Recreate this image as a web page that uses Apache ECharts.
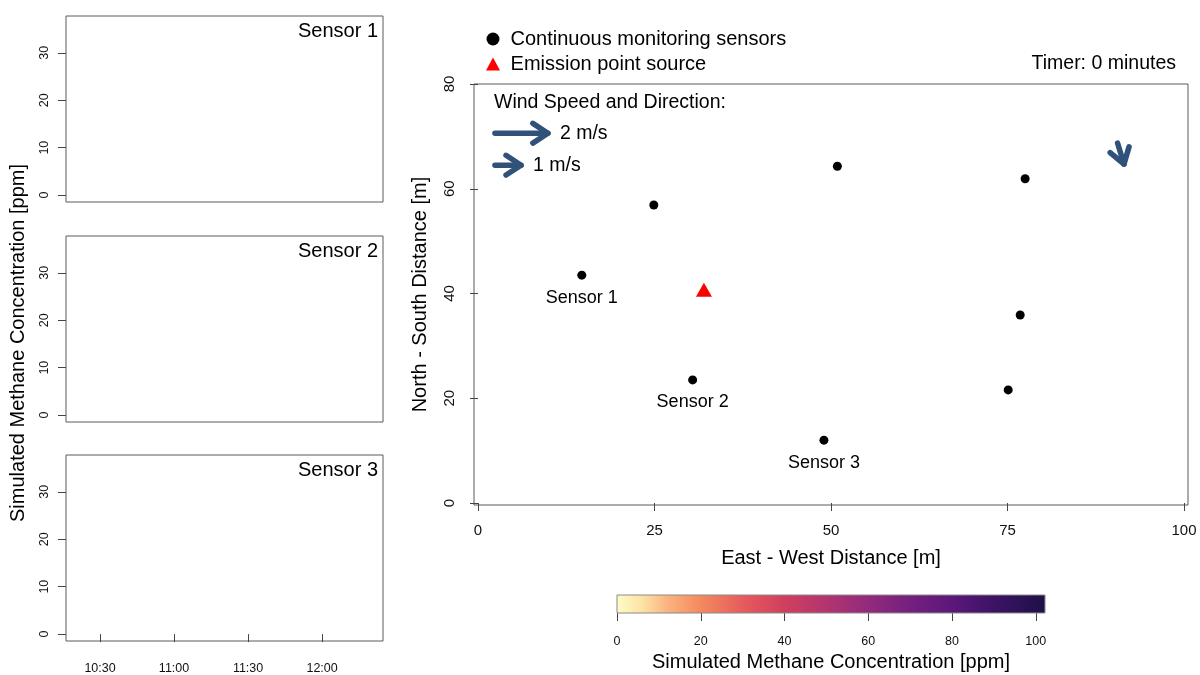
<!DOCTYPE html>
<html><head><meta charset="utf-8">
<script src="https://cdn.jsdelivr.net/npm/echarts@6/dist/echarts.min.js"></script>
<style>html,body{margin:0;padding:0;background:#fff}#c{width:1200px;height:675px}</style>
</head><body><div id="c"></div>
<script>
// ---------- data ----------
const sensorNames = ['Sensor 1', 'Sensor 2', 'Sensor 3', '', '', '', '', ''];
const sensorX = [14.7, 30.4, 49.0, 24.9, 50.9, 77.5, 76.8, 75.1];
const sensorY = [43.5, 23.5, 12.0, 56.9, 64.3, 61.9, 35.9, 21.6];
const sourceX = [32.0];
const sourceY = [40.7];
const windArrows = [[90.6, 68.7, 91.5, 64.7]];           // x0, y0, x1, y1 [m]
const windLegendArrows = [[2.4, 70.6, 9.9, 70.6], [2.4, 64.5, 6.1, 64.5]];
const windLegendLabels = ['2 m/s', '1 m/s'];
const xTicks = [0, 25, 50, 75, 100];
const yTicks = [0, 20, 40, 60, 80];
const concTicks = [0, 10, 20, 30];
const timeTicks = [630, 660, 690, 720];                   // minutes after midnight (10:30 .. 12:00)
const colorbarTicks = [0, 20, 40, 60, 80, 100];
const colorbarRange = [0, 102.2];
const sensor1Conc = [];
const sensor2Conc = [];
const sensor3Conc = [];
const panelTitles = ['Sensor 1', 'Sensor 2', 'Sensor 3'];
const timerMinutes = 0;

// ---------- chart ----------
const FF = 'Liberation Sans, Arial, sans-serif';
const ARROW = '#30527a';
const BORDER = '#5a5a5a';
const chart = echarts.init(document.getElementById('c'), null, {renderer: 'canvas'});

function fmtTime(v) {
  const h = Math.floor(v / 60), m = Math.round(v % 60);
  return h + ':' + String(m).padStart(2, '0');
}

function arrowItem(params, api) {
  const p0 = api.coord([api.value(0), api.value(1)]);
  const p1 = api.coord([api.value(2), api.value(3)]);
  const ang = Math.atan2(p1[1] - p0[1], p1[0] - p0[0]);
  const L = 18, a = 0.58;
  const h1 = [p1[0] - L * Math.cos(ang - a), p1[1] - L * Math.sin(ang - a)];
  const h2 = [p1[0] - L * Math.cos(ang + a), p1[1] - L * Math.sin(ang + a)];
  const st = {stroke: ARROW, lineWidth: 5.5, lineCap: 'round', lineJoin: 'round', fill: null};
  const children = [
    {type: 'polyline', shape: {points: [p0, p1]}, style: st},
    {type: 'polyline', shape: {points: [h1, p1, h2]}, style: st}
  ];
  const li = api.value(4);
  if (!isNaN(li) && windLegendLabels[li] != null) {
    children.push({type: 'text', style: {text: windLegendLabels[li], x: p1[0] + 12, y: p1[1],
      verticalAlign: 'middle', align: 'left', font: '19.5px ' + FF, fill: '#000'}});
  }
  return {type: 'group', children};
}

const panelTops = [16, 236, 455];
const panelH = 186;
const grids = [{left: 474, top: 84, width: 714, height: 421, show: true, borderColor: BORDER, borderWidth: 1, backgroundColor: '#fff'}];
panelTops.forEach(t => grids.push({left: 66, top: t, width: 317, height: panelH, show: true, borderColor: BORDER, borderWidth: 1}));
grids.push({left: 617, top: 595, width: 428, height: 18});

const tickStyle = {color: '#444', width: 1};
const xAxes = [{
  gridIndex: 0, type: 'value', min: -0.57, max: 100.57,
  axisLine: {show: false}, splitLine: {show: false},
  axisTick: {show: true, length: 8, lineStyle: tickStyle, customValues: xTicks},
  axisLabel: {fontSize: 15, color: '#111', fontFamily: FF, margin: 18, customValues: xTicks},
  name: 'East - West Distance [m]', nameLocation: 'middle', nameGap: 43,
  nameTextStyle: {fontSize: 20, color: '#000', fontFamily: FF}
}];
const yAxes = [{
  gridIndex: 0, type: 'value', min: -0.38, max: 80,
  axisLine: {show: false}, splitLine: {show: false},
  axisTick: {show: true, length: 8, lineStyle: tickStyle, customValues: yTicks},
  axisLabel: {fontSize: 15, color: '#111', fontFamily: FF, margin: 17, rotate: 90, customValues: yTicks},
  name: 'North - South Distance [m]', nameLocation: 'middle', nameGap: 44,
  nameTextStyle: {fontSize: 20, color: '#000', fontFamily: FF}
}];
for (let i = 0; i < 3; i++) {
  xAxes.push({
    gridIndex: i + 1, type: 'value', min: 616.2, max: 744.7, show: i === 2,
    axisLine: {show: false}, splitLine: {show: false},
    axisTick: {show: true, length: 8, lineStyle: tickStyle, customValues: timeTicks},
    axisLabel: {fontSize: 12.5, color: '#111', fontFamily: FF, margin: 21, customValues: timeTicks, formatter: fmtTime}
  });
  yAxes.push({
    gridIndex: i + 1, type: 'value', min: -1.45, max: 37.75,
    axisLine: {show: false}, splitLine: {show: false},
    axisTick: {show: true, length: 8, lineStyle: tickStyle, customValues: concTicks},
    axisLabel: {fontSize: 12.5, color: '#111', fontFamily: FF, margin: 15, rotate: 90, customValues: concTicks}
  });
}
xAxes.push({
  gridIndex: 4, type: 'value', min: colorbarRange[0], max: colorbarRange[1],
  axisLine: {show: false}, splitLine: {show: false},
  axisTick: {show: true, length: 8, lineStyle: tickStyle, customValues: colorbarTicks},
  axisLabel: {fontSize: 12.5, color: '#111', fontFamily: FF, margin: 22, customValues: colorbarTicks},
  name: 'Simulated Methane Concentration [ppm]', nameLocation: 'middle', nameGap: 39,
  nameTextStyle: {fontSize: 20, color: '#000', fontFamily: FF}
});
yAxes.push({gridIndex: 4, type: 'value', min: 0, max: 1, show: false});

const series = [
  {
    name: 'Continuous monitoring sensors', type: 'scatter', xAxisIndex: 0, yAxisIndex: 0,
    symbol: 'circle', symbolSize: 9, itemStyle: {color: '#000', opacity: 1}, z: 5,
    data: sensorX.map((x, i) => ({value: [x, sensorY[i]], name: sensorNames[i]})),
    label: {show: true, position: 'bottom', distance: 9, fontSize: 18, color: '#000', fontFamily: FF,
      formatter: p => p.name}
  },
  {
    name: 'Emission point source', type: 'scatter', xAxisIndex: 0, yAxisIndex: 0,
    symbol: 'triangle', symbolSize: [16, 14], itemStyle: {color: '#ff0000', opacity: 1}, z: 5,
    data: sourceX.map((x, i) => [x, sourceY[i]])
  },
  {
    type: 'custom', xAxisIndex: 0, yAxisIndex: 0, renderItem: arrowItem, z: 6,
    data: windArrows.map(a => [a[0], a[1], a[2], a[3], NaN])
  },
  {
    type: 'custom', xAxisIndex: 0, yAxisIndex: 0, renderItem: arrowItem, z: 6,
    data: windLegendArrows.map((a, i) => [a[0], a[1], a[2], a[3], i])
  },
  {
    type: 'custom', xAxisIndex: 4, yAxisIndex: 4, z: 3,
    data: [[colorbarRange[0], colorbarRange[1]]],
    renderItem: (params, api) => {
      const a = api.coord([api.value(0), 0]);
      const b = api.coord([api.value(1), 1]);
      return {type: 'rect', shape: {x: a[0], y: b[1], width: b[0] - a[0], height: a[1] - b[1]},
        style: {fill: new echarts.graphic.LinearGradient(0, 0, 1, 0, [
          {offset: 0, color: '#fdfdc8'}, {offset: 0.06, color: '#fde2a5'}, {offset: 0.12, color: '#fbb27f'},
          {offset: 0.196, color: '#f38a5e'}, {offset: 0.3, color: '#e5595d'}, {offset: 0.39, color: '#d0405e'},
          {offset: 0.49, color: '#b23470'}, {offset: 0.587, color: '#922b7d'}, {offset: 0.69, color: '#731f7e'},
          {offset: 0.783, color: '#5c177b'}, {offset: 0.88, color: '#3c1365'}, {offset: 1, color: '#1e1048'}]),
          stroke: '#8a8a8a', lineWidth: 1}};
    }
  }
];
[sensor1Conc, sensor2Conc, sensor3Conc].forEach((d, i) => {
  series.push({type: 'line', xAxisIndex: i + 1, yAxisIndex: i + 1, data: d, showSymbol: false,
    lineStyle: {color: '#000', width: 1.5}});
});

const graphic = [
  {type: 'text', x: 18, y: 343, rotation: Math.PI / 2,
    style: {text: 'Simulated Methane Concentration [ppm]', font: '20px ' + FF, fill: '#000', align: 'center', verticalAlign: 'middle'}},
  {type: 'text', x: 1176, y: 64, style: {text: 'Timer: ' + timerMinutes + ' minutes', font: '19.5px ' + FF, fill: '#000', align: 'right', verticalAlign: 'middle'}},
  {type: 'text', x: 494, y: 103, style: {text: 'Wind Speed and Direction:', font: '19.5px ' + FF, fill: '#000', align: 'left', verticalAlign: 'middle'}}
];
panelTops.forEach((t, i) => graphic.push({type: 'text', x: 378, y: t + 15,
  style: {text: panelTitles[i], font: '20px ' + FF, fill: '#000', align: 'right', verticalAlign: 'middle'}}));

chart.setOption({
  animation: false,
  backgroundColor: '#fff',
  textStyle: {fontFamily: FF},
  grid: grids,
  xAxis: xAxes,
  yAxis: yAxes,
  legend: {
    orient: 'vertical', left: 486, top: 29, padding: 0, itemWidth: 14, itemHeight: 13, itemGap: 5,
    selectedMode: false,
    formatter: n => ' ' + n,
    textStyle: {fontSize: 20, color: '#000', fontFamily: FF, lineHeight: 20},
    data: [{name: 'Continuous monitoring sensors', icon: 'circle', itemStyle: {color: '#000', opacity: 1}},
           {name: 'Emission point source', icon: 'triangle', itemStyle: {color: '#ff0000', opacity: 1}}]
  },
  graphic: graphic,
  series: series
});
</script></body></html>
